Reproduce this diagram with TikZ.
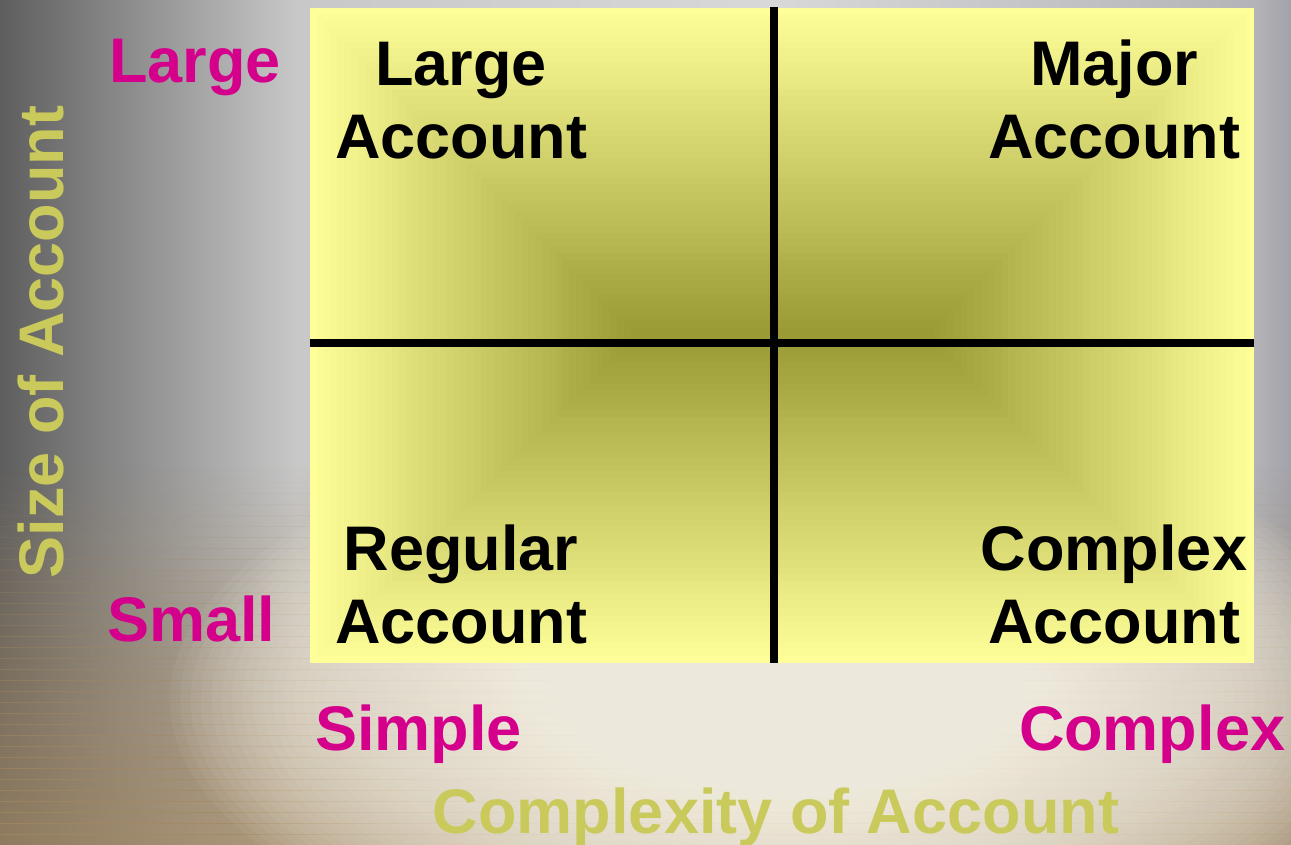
\documentclass[tikz,border=0pt]{standalone}
\usepackage{fontspec}
\setmainfont{Liberation Sans}
\usetikzlibrary{positioning}
\definecolor{bgdark}{HTML}{5E5E5E}
\definecolor{bglight}{HTML}{C8C8C8}
\definecolor{bgtop}{HTML}{D8D8D8}
\definecolor{bgside}{HTML}{B4B4B8}
\definecolor{bgright}{HTML}{A2A2AA}
\definecolor{bgtan}{HTML}{A48860}
\definecolor{glow}{HTML}{FFFBEE}
\definecolor{rectedge}{HTML}{FFFF99}
\definecolor{rectcore}{HTML}{999933}
\definecolor{axmag}{HTML}{D4008C}
\definecolor{axolive}{HTML}{CACA5C}
\pgfdeclarehorizontalshading{bgh}{100bp}{color(0bp)=(bgdark); color(25bp)=(bgdark); color(36.5bp)=(bglight); color(55bp)=(bgtop); color(73.5bp)=(bgside); color(75bp)=(bgright); color(100bp)=(bgright)}
\tikzset{%
   big/.style={font=\fontsize{63}{73}\selectfont\bfseries, inner sep=0pt, outer sep=0pt},
   quad/.style={big, anchor=base, text=black},
   endlbl/.style={big, anchor=base west, text=axmag},
   axlbl/.style={big, text=axolive},
   cross/.style={line width=7.8pt, draw=black},
}
\begin{document}
\begin{tikzpicture}[x=1pt, y=-1pt]
   \useasboundingbox (0,0) rectangle (1291,844);
   \begin{scope}
      \clip (0,0) rectangle (1291,844);
      \shade[shading=bgh] (0,0) rectangle (1291,844);
      \foreach \j in {0,...,69}
         \fill[bgtan, fill opacity={0.7*\j/69}] (0,{460+\j*5.5}) rectangle (1291,{466+\j*5.5});
      \foreach \k in {0,...,59}
         \fill[glow, fill opacity=0.05] (790,700) ellipse ({620*(1-\k/60)} and {280*(1-\k/60)});
   \end{scope}
   \foreach \i in {0,...,48} {
      \pgfmathsetmacro\h{327.5*(1-\i/48)}
      \pgfmathtruncatemacro\m{100-\i*100/48}
      \fill[rectedge!\m!rectcore] ({637.5-\h},{335-\h}) rectangle ({926.5+\h},{335+\h});
   }
   \coordinate (vtop) at (774,7);
   \coordinate (vbot) at (774,663);
   \coordinate (hleft) at (310,343);
   \coordinate (hright) at (1254,343);
   \draw[cross] (vtop) -- (vbot);
   \draw[cross] (hleft) -- (hright);
   \node[quad] (la1) at (461,85) {Large};
   \node[quad] (la2) at ([yshift=-73pt]la1.base) {Account};
   \node[quad] (ma1) at (1114,85) {Major};
   \node[quad] (ma2) at ([yshift=-73pt]ma1.base) {Account};
   \node[quad] (ra1) at (461,570) {Regular};
   \node[quad] (ra2) at ([yshift=-73pt]ra1.base) {Account};
   \node[quad] (ca1) at (1114,570) {Complex};
   \node[quad] (ca2) at ([yshift=-73pt]ca1.base) {Account};
   \node[endlbl] (large) at (109,82) {Large};
   \node[endlbl] (small) at (107,641) {Small};
   \node[endlbl] (simple) at (315,750) {Simple};
   \node[endlbl] (complex) at (1019,750) {Complex};
   \node[axlbl, anchor=base] (xaxis) at (776,833) {Complexity of Account};
   \node[axlbl, anchor=base, rotate=90] (yaxis) at (63,342) {Size of Account};
\end{tikzpicture}
\end{document}
